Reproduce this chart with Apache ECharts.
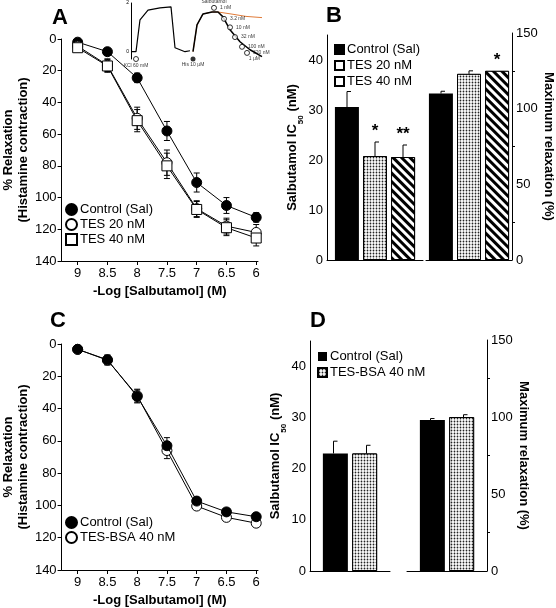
<!DOCTYPE html>
<html>
<head>
<meta charset="utf-8">
<script src="https://cdn.jsdelivr.net/npm/echarts@6/dist/echarts.min.js"></script>
<style>html,body{margin:0;padding:0;background:#fff}#chart{width:556px;height:608px}</style>
</head>
<body>
<div id="chart"></div>
<script>
// 浓度 (-log M)
const logConc = [9, 8.5, 8, 7.5, 7, 6.5, 6]
// A 面板
const ctrlA = [2, 8, 24.5, 58, 90.5, 105, 112.5]
const ctrlAErr = [1, 2, 3, 6, 6, 5, 3]
const tes20A = [4.5, 16.5, 50, 78, 107, 118, 122]
const tes20AErr = [1.5, 4, 7, 8, 5, 5, 5]
const tes40A = [5.5, 17, 51.5, 80, 107.5, 119, 125.5]
const tes40AErr = [2, 4, 7, 8, 5, 5, 5]
// C 面板
const ctrlC = [3.3, 9.8, 32.5, 63, 97.3, 104, 107]
const ctrlCErr = [1, 3, 4, 5, 2, 2, 1.5]
const bsaC = [3.3, 10, 32, 66, 100.4, 107.4, 111]
const bsaCErr = [1, 3, 4, 5, 2, 2, 1.5]
// B 面板
const groupsB = ['Control (Sal)', 'TES 20 nM', 'TES 40 nM']
const ic50B = [30.6, 20.8, 20.6]
const ic50BErr = [3.1, 2.8, 2.4]
const ic50BSig = ['', '*', '**']
const maxB = [110, 123, 125]
const maxBErr = [1.5, 2, 0]
const maxBSig = ['', '', '*']
// D 面板
const groupsD = ['Control (Sal)', 'TES-BSA 40 nM']
const ic50D = [23, 23]
const ic50DErr = [2.4, 1.6]
const maxD = [98, 100]
const maxDErr = [1, 1.5]
// 刻度
const icTicks = [0, 10, 20, 30, 40]
// 插图：张力曲线
const traceT1 = [0, 5, 9, 17, 29, 40, 41, 44, 54, 59]
const traceF1 = [0, 0, 1.31, 1.71, 1.8, 1.84, 1.84, 0.16, 0, 0.04]
const traceT2 = [62, 66, 72, 81, 87, 92, 99, 109, 119, 131]
const traceF2 = [0, 1.1, 1.55, 1.63, 1.63, 1.43, 0.9, 0.41, 0.08, -0.2]
const orangeT = [62, 66, 72, 81, 87, 100, 115, 131]
const orangeF = [0, 1.1, 1.55, 1.63, 1.63, 1.55, 1.45, 1.4]
const doseT = [83, 93, 99, 104, 111, 116]
const doseF = [1.8, 1.35, 1.0, 0.6, 0.2, -0.05]
const doseLabels = ['1 nM', '3.2 nM', '10 nM', '32 nM', '100 nM', '320 nM']

const FONT = 'Liberation Sans'
const chart = echarts.init(document.getElementById('chart'), null, { renderer: 'canvas' })

const dottedDecal = { symbol: 'circle', symbolSize: 0.6, dashArrayX: [3, 0], dashArrayY: [3, 0], color: '#222', backgroundColor: '#fff' }
const hatchDecal = { symbol: 'rect', symbolSize: 1, rotation: Math.PI / 4, dashArrayX: [1, 0], dashArrayY: [3, 3], color: '#000', backgroundColor: '#fff' }
const barStyles = [
  { color: '#000' },
  { color: '#fff', borderColor: '#000', borderWidth: 1, decal: dottedDecal },
  { color: '#fff', borderColor: '#000', borderWidth: 1, decal: hatchDecal }
]

// 误差线（曲线）
function curveErr(xi, yi, xs, ys, errs) {
  return {
    type: 'custom', xAxisIndex: xi, yAxisIndex: yi, z: 1, silent: true,
    data: xs.map((x, i) => [x, ys[i], errs[i]]),
    renderItem(params, api) {
      const x = api.value(0), y = api.value(1), e = api.value(2)
      const p1 = api.coord([x, y - e]), p2 = api.coord([x, y + e])
      const st = { stroke: '#000', lineWidth: 1 }
      return { type: 'group', children: [
        { type: 'line', shape: { x1: p1[0], y1: p1[1], x2: p2[0], y2: p2[1] }, style: st },
        { type: 'line', shape: { x1: p1[0] - 3, y1: p1[1], x2: p1[0] + 3, y2: p1[1] }, style: st },
        { type: 'line', shape: { x1: p2[0] - 3, y1: p2[1], x2: p2[0] + 3, y2: p2[1] }, style: st }
      ] }
    }
  }
}

// 误差线 + 显著性星号（柱状）
function barErr(gi, val, err, sig, offset) {
  return {
    type: 'custom', xAxisIndex: gi, yAxisIndex: gi, z: 5, silent: true,
    data: [[0, val, err]],
    renderItem(params, api) {
      const base = api.coord([0, api.value(1)])
      const top = api.coord([0, api.value(1) + api.value(2)])
      const x = base[0] + offset
      const st = { stroke: '#000', lineWidth: 1 }
      const ch = []
      if (api.value(2) > 0) {
        ch.push({ type: 'line', shape: { x1: x, y1: base[1], x2: x, y2: top[1] }, style: st })
        ch.push({ type: 'line', shape: { x1: x, y1: top[1], x2: x + 4, y2: top[1] }, style: st })
      }
      if (sig) ch.push({ type: 'text', x: x, y: top[1] - 2, style: { text: sig, font: 'bold 17px ' + FONT, fill: '#000', align: 'center', verticalAlign: 'bottom' } })
      return { type: 'group', children: ch }
    }
  }
}

const curveX = (gi) => ({
  gridIndex: gi, type: 'value', inverse: true, min: 5.97, max: 9.27,
  name: '-Log [Salbutamol] (M)', nameLocation: 'middle', nameGap: 24,
  nameTextStyle: { fontFamily: FONT, fontWeight: 'bold', fontSize: 13, color: '#000' },
  axisLine: { onZero: false, lineStyle: { color: '#000' } },
  axisTick: { length: 4, customValues: logConc, lineStyle: { color: '#000' } },
  axisLabel: { customValues: logConc, fontFamily: FONT, fontSize: 13, color: '#000', margin: 6 },
  splitLine: { show: false }
})
const curveY = (gi) => ({
  gridIndex: gi, type: 'value', inverse: true, min: 0, max: 140, interval: 20,
  name: '% Relaxation\n(Histamine contraction)', nameLocation: 'middle', nameGap: 28,
  nameTextStyle: { fontFamily: FONT, fontWeight: 'bold', fontSize: 13, color: '#000', lineHeight: 15 },
  axisLine: { show: true, lineStyle: { color: '#000' } },
  axisTick: { length: 4, lineStyle: { color: '#000' } },
  axisLabel: { fontFamily: FONT, fontSize: 13, color: '#000', margin: 5 },
  splitLine: { show: false }
})
const barX = (gi) => ({
  gridIndex: gi, type: 'category', data: [''],
  axisLine: { lineStyle: { color: '#000' } }, axisTick: { show: false }, axisLabel: { show: false }
})
const ic50Y = (gi) => ({
  gridIndex: gi, type: 'value', min: 0, max: 45, interval: 5,
  name: 'Salbutamol IC{s|50} (nM)', nameLocation: 'middle', nameGap: 24,
  nameTextStyle: { fontFamily: FONT, fontWeight: 'bold', fontSize: 13, color: '#000', rich: { s: { fontSize: 8, fontWeight: 'bold', verticalAlign: 'bottom', padding: [0, 0, -6, 0] } } },
  axisLine: { show: true, lineStyle: { color: '#000' } },
  axisTick: { length: 3, lineStyle: { color: '#000' } },
  axisLabel: { customValues: icTicks, fontFamily: FONT, fontSize: 13, color: '#000', margin: 4 },
  splitLine: { show: false }
})
const maxY = (gi) => ({
  gridIndex: gi, type: 'value', position: 'right', min: 0, max: 150, interval: 50,
  name: 'Maximum relaxation (%)', nameLocation: 'middle', nameGap: 30, nameRotate: -90,
  nameTextStyle: { fontFamily: FONT, fontWeight: 'bold', fontSize: 13, color: '#000' },
  axisLine: { show: true, lineStyle: { color: '#000' } },
  axisTick: { length: 4, lineStyle: { color: '#000' } },
  minorTick: { show: true, splitNumber: 2, length: 3, lineStyle: { color: '#000' } },
  axisLabel: { fontFamily: FONT, fontSize: 13, color: '#000', margin: 4 },
  splitLine: { show: false }
})

const lineSeries = (name, xi, ys, symbol, fill) => ({
  name, type: 'line', xAxisIndex: xi, yAxisIndex: xi, z: 3,
  data: logConc.map((x, i) => [x, ys[i]]),
  symbol, symbolSize: 10,
  lineStyle: { color: '#000', width: 1 },
  itemStyle: { color: fill, borderColor: '#000', borderWidth: 1 }
})

const barSeries = (name, gi, val, k, width) => ({
  name, type: 'bar', xAxisIndex: gi, yAxisIndex: gi, data: [val],
  barWidth: width, barGap: '17%', itemStyle: barStyles[k]
})

const series = []
// A
series.push(curveErr(0, 0, logConc, ctrlA, ctrlAErr), curveErr(0, 0, logConc, tes20A, tes20AErr), curveErr(0, 0, logConc, tes40A, tes40AErr))
series.push(lineSeries('Control (Sal)', 0, ctrlA, 'circle', '#000'))
series.push(lineSeries('TES 20 nM', 0, tes20A, 'circle', '#fff'))
series.push(lineSeries('TES 40 nM', 0, tes40A, 'rect', '#fff'))
// C
series.push(curveErr(3, 3, logConc, ctrlC, ctrlCErr), curveErr(3, 3, logConc, bsaC, bsaCErr))
series.push(lineSeries('Control (Sal) ', 3, ctrlC, 'circle', '#000'))
series.push(lineSeries('TES-BSA 40 nM ', 3, bsaC, 'circle', '#fff'))
series[series.length - 1].z = 2
// B
const offB = [-28, 0, 28]
groupsB.forEach((g, k) => {
  series.push(barSeries(g, 1, ic50B[k], k, 24))
  series.push(barErr(1, ic50B[k], ic50BErr[k], ic50BSig[k], offB[k]))
  series.push(barSeries(g, 2, maxB[k], k, 24))
  series.push(barErr(2, maxB[k], maxBErr[k], maxBSig[k], offB[k]))
})
// D
const offD = [-16.5, 16.5]
groupsD.forEach((g, k) => {
  const name = g === 'Control (Sal)' ? 'Control (Sal)  ' : g
  series.push(barSeries(name, 4, ic50D[k], k, 25))
  series.push(barErr(4, ic50D[k], ic50DErr[k], '', offD[k]))
  series.push(barSeries(name, 5, maxD[k], k, 25))
  series.push(barErr(5, maxD[k], maxDErr[k], '', offD[k]))
})
// 插图
const tiny = { fontFamily: FONT, fontSize: 5, color: '#000' }
series.push({ type: 'line', xAxisIndex: 6, yAxisIndex: 6, symbol: 'none', data: traceT1.map((t, i) => [t, traceF1[i]]), lineStyle: { color: '#000', width: 1.2 } })
series.push({ type: 'line', xAxisIndex: 6, yAxisIndex: 6, symbol: 'none', z: 2, data: orangeT.map((t, i) => [t, orangeF[i]]), lineStyle: { color: '#e07b39', width: 1 } })
series.push({ type: 'line', xAxisIndex: 6, yAxisIndex: 6, symbol: 'none', z: 3, data: traceT2.map((t, i) => [t, traceF2[i]]), lineStyle: { color: '#000', width: 1.5 } })
series.push({
  type: 'scatter', xAxisIndex: 6, yAxisIndex: 6, symbol: 'circle', symbolSize: 5, z: 4,
  itemStyle: { color: '#fff', borderColor: '#000', borderWidth: 1 },
  data: doseT.map((t, i) => ({ value: [t, doseF[i]], label: { show: true, position: 'right', distance: 3, formatter: doseLabels[i], ...tiny } }))
    .concat([{ value: [5, -0.3], label: { show: true, position: 'bottom', distance: 1, formatter: 'KCl 60 mM', ...tiny } },
             { value: [134, -0.3], symbolSize: 0, label: { show: true, position: 'left', formatter: '1 µM', ...tiny } },
             { value: [83, 1.8], symbolSize: 0, label: { show: true, position: 'top', distance: 4, formatter: 'Salbutamol', ...tiny } }])
})
series.push({
  type: 'scatter', xAxisIndex: 6, yAxisIndex: 6, symbolSize: 5, z: 4, itemStyle: { color: '#000' },
  data: [{ value: [62, -0.3], label: { show: true, position: 'bottom', distance: 1, formatter: 'His 10 µM', ...tiny } }]
})

const legendText = { fontFamily: FONT, fontSize: 13, color: '#000', padding: [0, 0, 0, -2] }
const option = {
  animation: false,
  textStyle: { fontFamily: FONT },
  grid: [
    { left: 56, top: 39, width: 202, height: 222 },
    { left: 327, top: 35, width: 96, height: 225 },
    { left: 426, top: 33, width: 92, height: 227 },
    { left: 52, top: 344, width: 206, height: 228 },
    { left: 310, top: 341, width: 80, height: 230 },
    { left: 407, top: 340, width: 80, height: 231 },
    { left: 131, top: 3, width: 134, height: 56 }
  ],
  xAxis: [
    curveX(0), barX(1), barX(2), curveX(3), barX(4), barX(5),
    { gridIndex: 6, type: 'value', min: 0, max: 134, show: false }
  ],
  yAxis: [
    curveY(0), ic50Y(1), maxY(2), curveY(3), ic50Y(4), maxY(5),
    { gridIndex: 6, type: 'value', min: -0.3, max: 2, interval: 2,
      axisLine: { show: true, onZero: false, lineStyle: { color: '#000' } },
      axisTick: { show: false }, splitLine: { show: false },
      axisLabel: { customValues: [0, 2], fontSize: 5, color: '#000', margin: 2 } }
  ],
  legend: [
    { left: 60, top: 198, orient: 'vertical', itemGap: 2, itemWidth: 11, itemHeight: 11,
      textStyle: legendText,
      data: [{ name: 'Control (Sal)', icon: 'circle' }, { name: 'TES 20 nM', icon: 'circle' }, { name: 'TES 40 nM', icon: 'rect' }] },
    { left: 329, top: 38, orient: 'vertical', itemGap: 3, itemWidth: 9, itemHeight: 9,
      textStyle: legendText,
      data: groupsB.map(n => ({ name: n, icon: 'rect' })) },
    { left: 60, top: 511, orient: 'vertical', itemGap: 2, itemWidth: 11, itemHeight: 11,
      textStyle: legendText,
      data: [{ name: 'Control (Sal) ', icon: 'circle' }, { name: 'TES-BSA 40 nM ', icon: 'circle' }] },
    { left: 312, top: 345, orient: 'vertical', itemGap: 3, itemWidth: 9, itemHeight: 9,
      textStyle: legendText,
      data: [{ name: 'Control (Sal)  ', icon: 'rect' }, { name: 'TES-BSA 40 nM', icon: 'rect' }] }
  ],
  graphic: [
    { type: 'text', left: 52, top: 7, style: { text: 'A', font: 'bold 22px ' + FONT, fill: '#000' } },
    { type: 'text', left: 326, top: 5, style: { text: 'B', font: 'bold 22px ' + FONT, fill: '#000' } },
    { type: 'text', left: 50, top: 310, style: { text: 'C', font: 'bold 22px ' + FONT, fill: '#000' } },
    { type: 'text', left: 310, top: 310, style: { text: 'D', font: 'bold 22px ' + FONT, fill: '#000' } }
  ],
  series
}
chart.setOption(option)
</script>
</body>
</html>
